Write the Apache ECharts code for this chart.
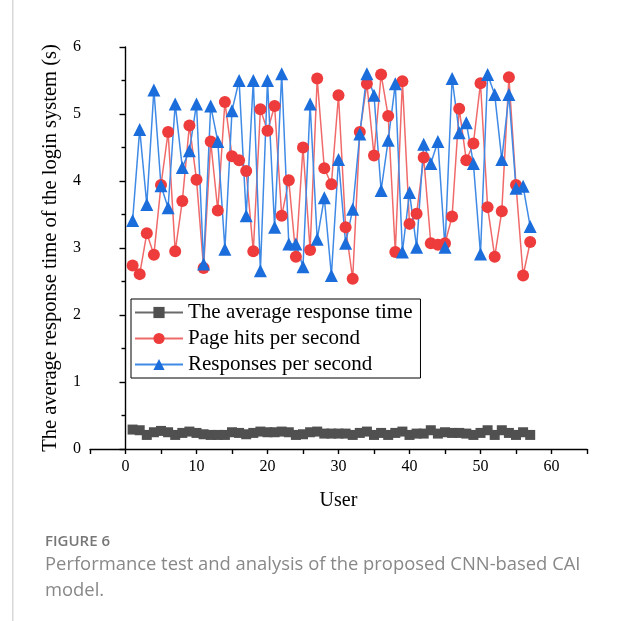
<!DOCTYPE html>
<html>
<head>
<meta charset="utf-8">
<script src="https://cdn.jsdelivr.net/npm/echarts@6/dist/echarts.min.js"></script>
<style>
html,body{margin:0;padding:0;background:#fff;}
#chart{width:620px;height:621px;}
</style>
</head>
<body>
<div id="chart"></div>
<script>
var users = [];
for (var i = 1; i <= 57; i++) users.push(i);

var avgResponseTime = [0.29,0.28,0.21,0.25,0.27,0.25,0.21,0.24,0.26,0.24,
  0.22,0.21,0.21,0.21,0.25,0.24,0.22,0.24,0.26,0.25,
  0.25,0.26,0.25,0.21,0.22,0.25,0.26,0.23,0.23,0.23,
  0.23,0.21,0.24,0.26,0.21,0.24,0.21,0.24,0.26,0.21,
  0.23,0.23,0.28,0.23,0.25,0.24,0.24,0.23,0.21,0.24,
  0.28,0.21,0.28,0.24,0.21,0.25,0.21];

var pageHits = [2.74,2.61,3.22,2.90,3.94,4.73,2.95,3.70,4.83,4.02,
  2.70,4.59,3.56,5.18,4.37,4.31,4.15,2.95,5.07,4.75,
  5.12,3.48,4.01,2.87,4.50,2.97,5.53,4.19,3.95,5.28,
  3.31,2.54,4.73,5.45,4.38,5.59,4.97,2.94,5.49,3.36,
  3.51,4.35,3.07,3.05,3.07,3.47,5.08,4.31,4.56,5.46,
  3.61,2.87,3.55,5.55,3.94,2.59,3.09];

var responses = [3.41,4.77,3.65,5.36,3.93,3.60,5.15,4.20,4.45,5.15,
  2.76,5.12,4.59,2.98,5.05,5.50,3.48,5.50,2.66,5.50,
  3.31,5.60,3.06,3.06,2.72,5.15,3.13,3.75,2.59,4.32,
  3.07,3.58,4.70,5.60,5.28,3.86,4.61,5.45,2.94,3.83,
  3.01,4.55,4.26,4.59,3.01,5.53,4.72,4.87,4.26,2.91,
  5.59,5.29,4.32,5.29,3.89,3.92,3.32];

var xTicksMin = -5, xTicksMax = 65;
var yTicksMin = 0, yTicksMax = 6;

function pairs(vals) {
  return vals.map(function (v, i) { return [users[i], v]; });
}

var serif = "'Liberation Serif', 'Times New Roman', serif";
var chart = echarts.init(document.getElementById('chart'), null, {renderer: 'canvas'});
chart.setOption({
  animation: false,
  backgroundColor: '#fff',
  grid: {left: 90, top: 47, right: 33, bottom: 172, containLabel: false},
  xAxis: {
    type: 'value', min: xTicksMin, max: xTicksMax, interval: 5,
    name: 'User', nameLocation: 'middle', nameGap: 42,
    nameTextStyle: {fontFamily: serif, fontSize: 20, color: '#000'},
    axisLine: {show: true, onZero: false, lineStyle: {color: '#000', width: 1.4}},
    axisTick: {show: true, length: 5, lineStyle: {color: '#000', width: 1.4}},
    axisLabel: {
      fontFamily: serif, fontSize: 16, color: '#000', margin: 10,
      formatter: function (v) { return (v % 10 === 0) ? String(v) : ''; }
    },
    splitLine: {show: false}
  },
  yAxis: {
    type: 'value', min: yTicksMin, max: yTicksMax, interval: 1,
    name: 'The average response time of the login system (s)',
    nameLocation: 'middle', nameGap: 29,
    nameTextStyle: {fontFamily: serif, fontSize: 20.5, color: '#000'},
    axisLine: {show: true, lineStyle: {color: '#000', width: 1.4}},
    axisTick: {show: true, length: 6, lineStyle: {color: '#000', width: 1.4}},
    minorTick: {show: true, splitNumber: 2, length: 4, lineStyle: {color: '#000', width: 1.4}},
    axisLabel: {fontFamily: serif, fontSize: 16, color: '#000', margin: 9},
    splitLine: {show: false}
  },
  legend: {
    orient: 'vertical', left: 131, top: 299,
    backgroundColor: '#fff', borderColor: '#000', borderWidth: 1,
    padding: [3, 8, 3, 3],
    itemWidth: 48, itemHeight: 14, itemGap: 5,
    textStyle: {fontFamily: serif, fontSize: 21, color: '#000'},
    data: ['The average response time', 'Page hits per second', 'Responses per second']
  },
  series: [
    {
      name: 'The average response time', type: 'line', data: pairs(avgResponseTime),
      symbol: 'rect', symbolSize: 10,
      itemStyle: {color: '#505050'},
      lineStyle: {color: '#6a6a6a', width: 1.2}
    },
    {
      name: 'Page hits per second', type: 'line', data: pairs(pageHits),
      symbol: 'circle', symbolSize: 12,
      itemStyle: {color: '#ee3b3b'},
      lineStyle: {color: '#f06a6a', width: 1.5}
    },
    {
      name: 'Responses per second', type: 'line', data: pairs(responses),
      symbol: 'triangle', symbolSize: 13,
      itemStyle: {color: '#1a6ddb'},
      lineStyle: {color: '#3f8ae6', width: 1.5}
    }
  ],
  graphic: [
    {type: 'rect', shape: {x: 12, y: 0, width: 1.5, height: 621}, style: {fill: '#d8d8d8'}, silent: true},
    {type: 'text', left: 45, top: 534, style: {text: 'FIGURE 6', fontFamily: 'Open Sans', fontSize: 15, fontWeight: 600, fill: '#777'}},
    {type: 'text', left: 45, top: 556, style: {text: 'Performance test and analysis of the proposed CNN-based CAI', fontFamily: 'Open Sans', fontSize: 18.4, fill: '#888'}},
    {type: 'text', left: 45, top: 582, style: {text: 'model.', fontFamily: 'Open Sans', fontSize: 18.4, fill: '#888'}}
  ]
});
</script>
</body>
</html>
